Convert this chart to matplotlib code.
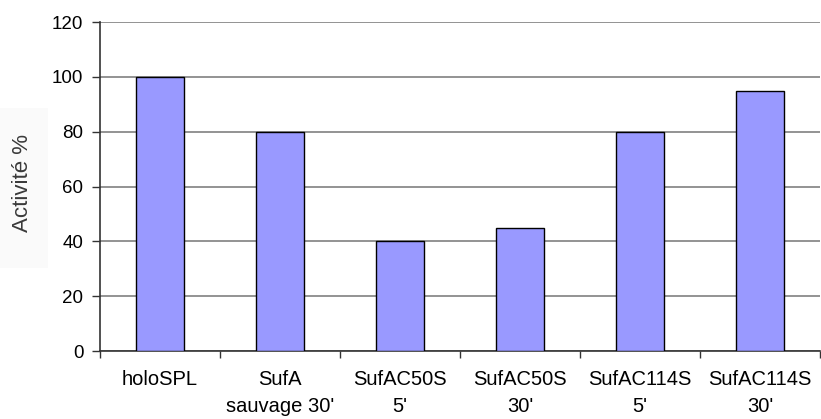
import matplotlib
matplotlib.use('Agg')
import matplotlib.pyplot as plt
from matplotlib.patches import Rectangle

categories = ["holoSPL", "SufA\nsauvage 30'", "SufAC50S\n5'", "SufAC50S\n30'",
              "SufAC114S\n5'", "SufAC114S\n30'"]
activity = [100, 80, 40, 45, 80, 95]
yticks = [0, 20, 40, 60, 80, 100, 120]

plt.rcParams['font.family'] = ['Liberation Sans', 'DejaVu Sans']

W, H = 821, 419
fig = plt.figure(figsize=(W / 100, H / 100), dpi=100)
ax = fig.add_axes([100 / W, 1 - 351 / H, 720 / W, (351 - 22) / H])

# faint box behind the y label
fig.patches.append(Rectangle((0, 1 - 268 / H), 48 / W, 160 / H, transform=fig.transFigure,
                             facecolor='#fafafa', edgecolor='none', zorder=0))

x = list(range(len(categories)))
ax.bar(x, activity, width=0.4, color='#9999ff', edgecolor='black', linewidth=1, zorder=3)

ax.set_xlim(-0.5, len(categories) - 0.5)
ax.set_ylim(0, 120)
ax.set_yticks(yticks)
ax.yaxis.grid(True, color='#808080', linewidth=1.2, zorder=0)
ax.set_axisbelow(True)

ax.set_xticks(x)
ax.set_xticklabels(categories, fontsize=14.5, linespacing=1.5)
ax.tick_params(axis='x', which='major', length=0, pad=14)
ax.set_xticks([i - 0.5 for i in range(len(categories) + 1)], minor=True)
ax.tick_params(axis='x', which='minor', length=5, width=1, color='#333333')
ax.tick_params(axis='y', labelsize=13.5, length=5.5, width=1, color='#333333', pad=6.5)

for side in ['top', 'right']:
    ax.spines[side].set_visible(False)
for side in ['left', 'bottom']:
    ax.spines[side].set_color('#333333')
    ax.spines[side].set_linewidth(1.2)

fig.text(23 / W, 1 - 183 / H, "Activité %", rotation=90, ha='center', va='center',
         fontsize=16, color='#3a3a3a')

plt.savefig('out.png', dpi=100)
